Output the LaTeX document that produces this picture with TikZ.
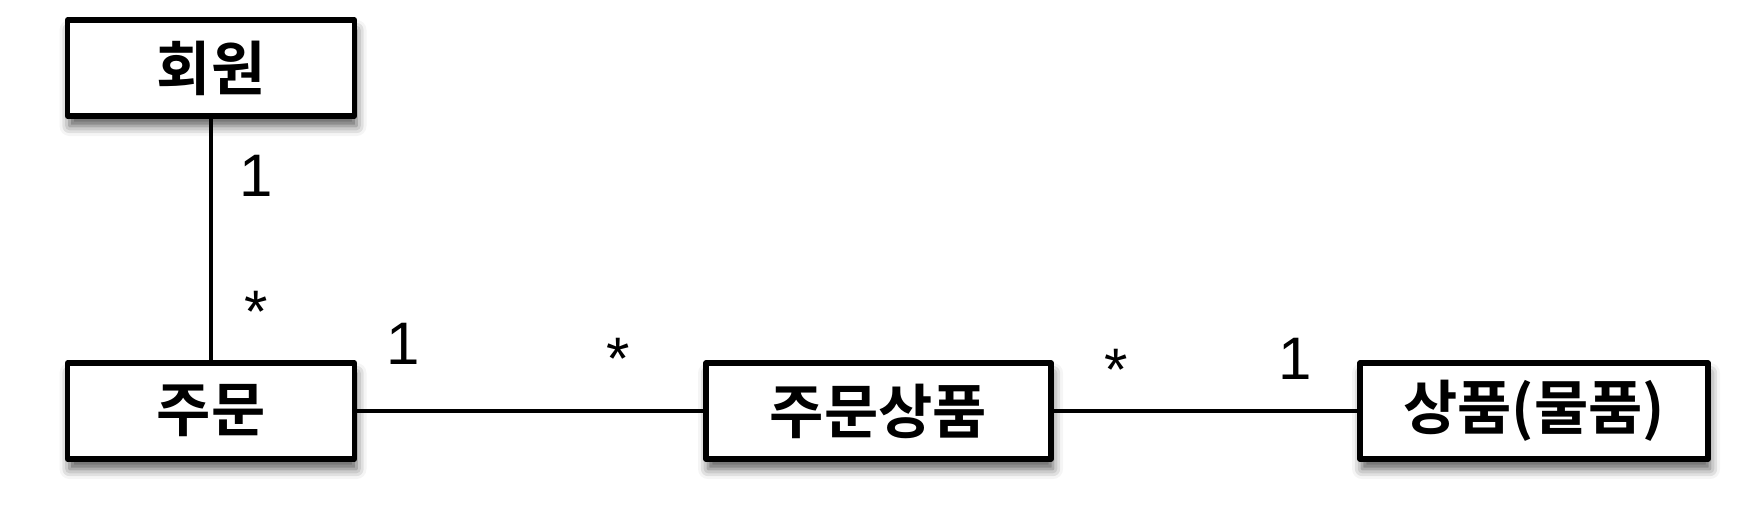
\documentclass[tikz,border=0pt]{standalone}
\usepackage{fontspec}
\setmainfont{Liberation Sans}
\newfontfamily\krbold{Noto Sans CJK KR Bold}
\usetikzlibrary{shadows.blur}

\begin{document}
\begin{tikzpicture}[x=0.5pt, y=-0.5pt,
    entity/.style={draw, line width=2.6pt, fill=white, line join=round,
        minimum height=48pt, font=\krbold\fontsize{29.5}{29.5}\selectfont,
        blur shadow={shadow xshift=1pt, shadow yshift=-5pt,
            shadow blur radius=5pt, shadow opacity=65}},
    mult/.style={inner sep=0pt, font=\fontsize{30}{30}\selectfont},
    assoc/.style={line width=2.4pt}]
    \useasboundingbox (0,0) rectangle (1744,504);
% Entities
    \node[entity, minimum width=143.5pt] (member) at (211,68) {회원};
    \node[entity, minimum width=143.5pt] (order) at (211,411) {주문};
    \node[entity, minimum width=172.5pt] (orderitem) at (878.5,411) {주문상품};
    \node[entity, minimum width=174pt] (item) at (1534,411) {상품(물품)};
% Associations
    \draw[assoc] (member) -- (order);
    \draw[assoc] (order) -- (orderitem);
    \draw[assoc] (orderitem) -- (item);
% Multiplicities
    \node[mult] (memberone) at (256,176) {1};
    \node[mult] (ordermany) at (256,312) {*};
    \node[mult] (orderone) at (403,344) {1};
    \node[mult] (orderitemmany) at (618,359) {*};
    \node[mult] (itemmany) at (1116,370) {*};
    \node[mult] (itemone) at (1295,359) {1};
\end{tikzpicture}
\end{document}
